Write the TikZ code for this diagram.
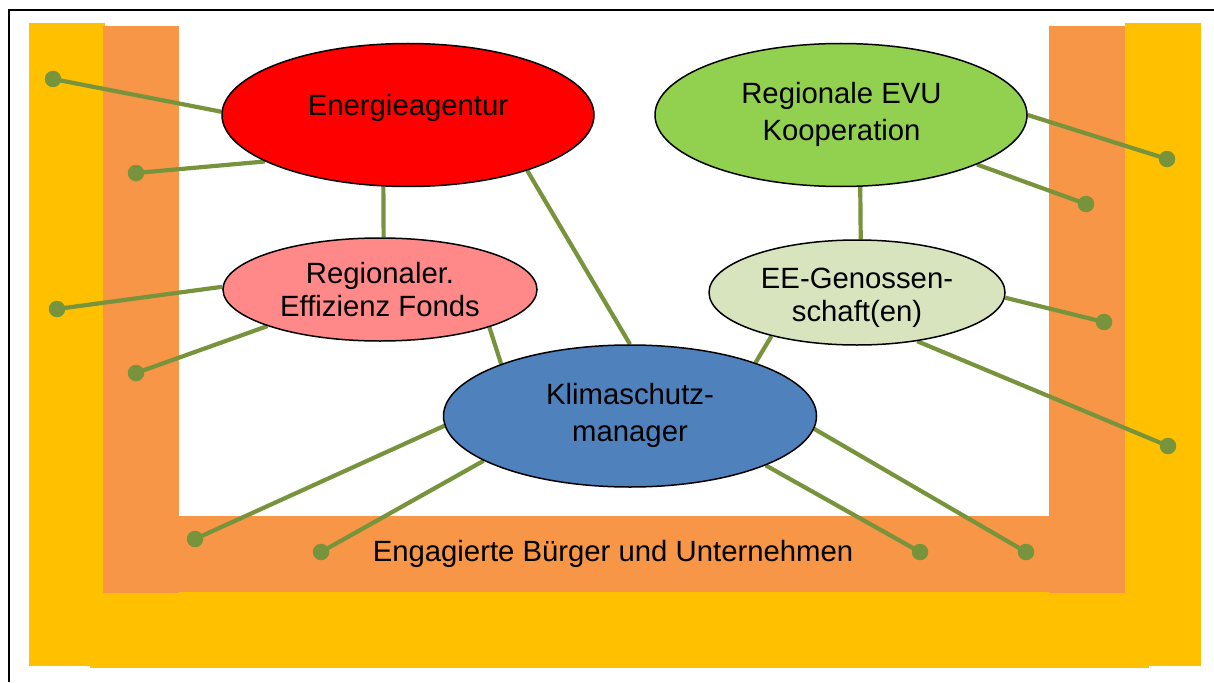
\documentclass[tikz,border=0pt]{standalone}
\usepackage{fontspec}
\setmainfont{Liberation Sans}
\usetikzlibrary{shapes.geometric}
\pgfdeclarelayer{bars}
\pgfdeclarelayer{links}
\pgfsetlayers{bars,links,main}
\definecolor{barY}{HTML}{FFC000}
\definecolor{barO}{HTML}{F79646}
\definecolor{lineG}{HTML}{77933C}
\definecolor{evuG}{HTML}{92D050}
\definecolor{fondP}{HTML}{FF8989}
\definecolor{eeG}{HTML}{D7E4BD}
\definecolor{klimaB}{HTML}{4F81BD}
\begin{document}
\begin{tikzpicture}[x=1pt,y=-1pt,
  ell/.style={ellipse,draw=black,line width=1.5pt,inner sep=0pt},
  lbl/.style={align=center,inner sep=0pt},
  link/.style={draw=lineG,line width=4.2pt},
  dot/.style={circle,fill=lineG,inner sep=0pt,minimum size=16.5pt}]
\useasboundingbox (0,0) rectangle (1214,682);

% bars
\begin{pgfonlayer}{bars}
\fill[barY] (29,23) rectangle (105,666);
\fill[barY] (1125,23) rectangle (1201,666);
\fill[barY] (90,592) rectangle (1149,668);
\fill[barO] (103,26) rectangle (179,593);
\fill[barO] (1049,26) rectangle (1125,593);
\fill[barO] (179,516) rectangle (1049,592);
\draw[line width=2pt] (9,682) -- (9,10) -- (1214,10);
\end{pgfonlayer}

% ellipses
\node[ell,fill=red,minimum width=372pt,minimum height=143pt] (ea) at (408,115) {};
\node[ell,fill=evuG,minimum width=372pt,minimum height=143pt] (evu) at (841,115) {};
\node[ell,fill=fondP,minimum width=314pt,minimum height=103pt] (ref) at (380,289.5) {};
\node[ell,fill=eeG,minimum width=296pt,minimum height=105pt] (ee) at (857,292.5) {};
\node[ell,fill=klimaB,minimum width=373pt,minimum height=142pt] (km) at (630,416) {};

% labels
\node[lbl,font=\fontsize{29.3}{37.4}\selectfont] (tea) at (408,107.6) {Energieagentur};
\node[lbl,font=\fontsize{29.3}{37.4}\selectfont] (tevu) at (841.5,114.6) {Regionale EVU\\Kooperation};
\node[lbl,font=\fontsize{29.3}{33.4}\selectfont] (tref) at (380,289.6) {Regionaler.\\Effizienz Fonds};
\node[lbl,font=\fontsize{29.3}{33.7}\selectfont] (tee) at (857,297.8) {EE-Genossen-\\schaft(en)};
\node[lbl,font=\fontsize{29.3}{37.7}\selectfont] (tkm) at (630,415.5) {Klimaschutz-\\manager};
\node[lbl,font=\fontsize{29.3}{34}\selectfont] (tbu) at (613,553.6) {Engagierte Bürger und Unternehmen};

% dots and links
\begin{pgfonlayer}{links}
\node[dot] (d1) at (53,79) {};
\node[dot] (d2) at (136,173) {};
\node[dot] (d3) at (57,309) {};
\node[dot] (d4) at (136,373) {};
\node[dot] (d5) at (195,539) {};
\node[dot] (d6) at (321,552) {};
\node[dot] (d7) at (920,552) {};
\node[dot] (d8) at (1026,552) {};
\node[dot] (d9) at (1168,446) {};
\node[dot] (d10) at (1104,322) {};
\node[dot] (d11) at (1086,204) {};
\node[dot] (d12) at (1167,159) {};

\draw[link] (d1.center) -- (ea.179);
\draw[link] (d2.center) -- (ea.198);
\draw[link] (d3.center) -- (ref.179);
\draw[link] (d4.center) -- (ref.198.4);
\draw[link] (d5.center) -- (km.183.7);
\draw[link] (d6.center) -- (km.197.3);
\draw[link] (d7.center) -- (km.340);
\draw[link] (d8.center) -- (km.356.6);
\draw[link] (d9.center) -- (ee.321.8);
\draw[link] (d10.center) -- (ee.358.3);
\draw[link] (d11.center) -- (evu.340);
\draw[link] (d12.center) -- (evu.0);

\draw[link] (ea.251.3) -- (ref.86.7);
\draw[link] (ea.335.7) -- (km.90);
\draw[link] (ref.341.3) -- (km.158.6);
\draw[link] (evu.285) -- (ee.86.7);
\draw[link] (ee.207.1) -- (km.23.4);
\end{pgfonlayer}
\end{tikzpicture}
\end{document}
